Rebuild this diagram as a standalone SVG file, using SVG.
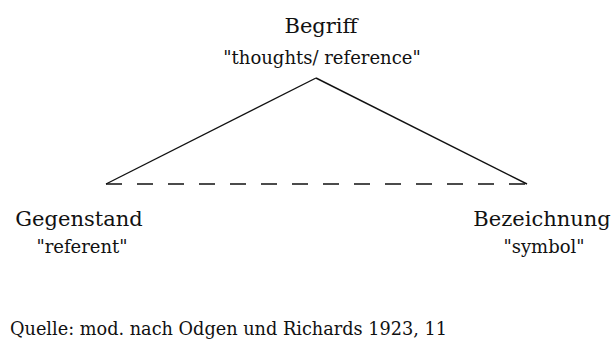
<svg xmlns="http://www.w3.org/2000/svg" width="612" height="340" viewBox="0 0 612 340">
<style>
text{fill:#111;text-anchor:middle}
.h{font-size:21px}
.s{font-size:18px}
.q{font-size:17.7px;text-anchor:start}
.line{stroke:#111;stroke-width:1.4;fill:none}
</style>
<rect width="612" height="340" fill="#fff"/>
<g id="connectors">
<line class="line" x1="316" y1="78" x2="106" y2="184"/>
<line class="line" x1="316" y1="78" x2="527" y2="184"/>
<line class="line" x1="106" y1="184" x2="527" y2="184" stroke-dasharray="16,15"/>
</g>
<g id="begriff" font-family="'DejaVu Serif', 'Liberation Serif', serif">
<text class="h" x="321" y="33">Begriff</text>
<text class="s" x="322" y="64">"thoughts/ reference"</text>
</g>
<g id="gegenstand" font-family="'DejaVu Serif', 'Liberation Serif', serif">
<text class="h" x="79" y="226">Gegenstand</text>
<text class="s" x="82" y="253">"referent"</text>
</g>
<g id="bezeichnung" font-family="'DejaVu Serif', 'Liberation Serif', serif">
<text class="h" x="542" y="226">Bezeichnung</text>
<text class="s" x="544" y="253">"symbol"</text>
</g>
<text class="q" x="10" y="335" font-family="'DejaVu Serif', 'Liberation Serif', serif">Quelle: mod. nach Odgen und Richards 1923, 11</text>
</svg>
